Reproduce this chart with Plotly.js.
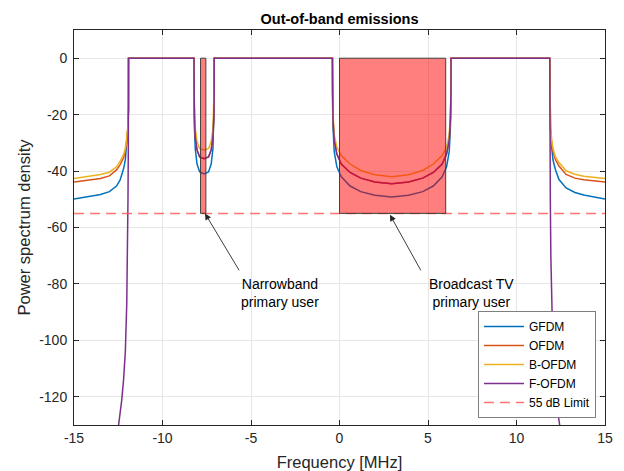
<!DOCTYPE html>
<html>
<head>
<meta charset="utf-8">
<script src="https://cdn.plot.ly/plotly-3.0.1.min.js"></script>
<style>html,body{margin:0;padding:0;background:#fff;}#chart{width:624px;height:471px;}</style>
</head>
<body>
<div id="chart"></div>
<script>
// ---- data ----
const freq = [-15, -14.5, -14, -13.5, -13, -12.6, -12.4, -12.2, -12.1, -12.02, -11.96, -11.92,
  -11.92, -8.22,
  -8.22, -8.2, -8.15, -8.05, -7.9, -7.65, -7.4, -7.25, -7.15, -7.1, -7.08,
  -7.08, -0.4,
  -0.4, -0.37, -0.3, -0.15, 0.1, 0.6, 1.2, 2.0, 2.95, 3.9, 4.7, 5.3, 5.8, 6.05, 6.2, 6.27, 6.3,
  6.3, 11.88,
  11.88, 11.92, 11.98, 12.06, 12.2, 12.4, 12.8, 13.3, 13.8, 14.4, 15];

const gfdm = [-49.9, -49.4, -48.8, -48.3, -47.3, -45.3, -43.2, -39.2, -36, -31, -25, -18,
  0, 0,
  -14, -24, -32, -37.5, -40.3, -41, -40.3, -37.5, -32, -24, -14,
  0, 0,
  -12, -24, -33, -38.5, -42, -45.3, -47.3, -48.6, -49.2, -48.6, -47.3, -45.3, -42, -38.5, -33, -24, -12,
  0, 0,
  -18, -25, -31, -36, -39.5, -43, -46, -47.6, -48.5, -49.3, -49.9];

const ofdm = [-43.9, -43.5, -43.1, -42.6, -41.7, -39.6, -37.8, -35.3, -33, -29.5, -25, -18,
  0, 0,
  -12, -21, -28, -32.5, -35, -35.6, -35, -32.5, -28, -21, -12,
  0, 0,
  -10, -21, -29, -34, -37.5, -40.5, -42.5, -43.9, -44.5, -43.9, -42.5, -40.5, -37.5, -34, -29, -21, -10,
  0, 0,
  -18, -25, -29.5, -33, -36, -38.2, -41.2, -42.5, -43.1, -43.5, -43.9];

const bofdm = [-42.6, -42.2, -41.8, -41.2, -40.4, -38.5, -36.6, -34.2, -32, -28.5, -24.5, -18,
  0, 0,
  -10, -18, -25, -29.5, -32, -32.6, -32, -29.5, -25, -18, -10,
  0, 0,
  -10, -20, -27, -31.5, -34.5, -37.5, -39.8, -41.3, -42, -41.3, -39.8, -37.5, -34.5, -31.5, -27, -20, -10,
  0, 0,
  -18, -24.5, -28.5, -32, -35, -37, -39.9, -41.1, -41.8, -42.2, -42.6];

const fofdmFreq = [-12.5, -12.4, -12.3, -12.2, -12.1, -12.02, -11.98, -11.95, -11.93, -11.92,
  -11.92, -8.22,
  -8.22, -8.2, -8.15, -8.05, -7.9, -7.65, -7.4, -7.25, -7.15, -7.1, -7.08,
  -7.08, -0.4,
  -0.4, -0.37, -0.3, -0.15, 0.1, 0.6, 1.2, 2.0, 2.95, 3.9, 4.7, 5.3, 5.8, 6.05, 6.2, 6.27, 6.3,
  6.3, 11.88,
  11.88, 11.89, 11.91, 11.94, 11.98, 12.06, 12.16, 12.26, 12.36, 12.46];

const fofdm = [-131, -126.5, -121, -114, -104, -87, -70, -50, -30, -18,
  0, 0,
  -12, -21, -28, -32.5, -35, -35.6, -35, -32.5, -28, -21, -12,
  0, 0,
  -10, -21, -29, -34, -37.5, -40.5, -42.5, -43.9, -44.5, -43.9, -42.5, -40.5, -37.5, -34, -29, -21, -10,
  0, 0,
  -18, -30, -50, -70, -87, -104, -114, -121, -126.5, -131];

const limitFreq = [-15, 15];
const limitLevel = -55;

// primary users (rectangles)
const puStart = [-7.85, 0];
const puEnd = [-7.55, 6];
const puTop = 0;

const seriesNames = ['GFDM', 'OFDM', 'B-OFDM', 'F-OFDM', '55 dB Limit'];
const xTicks = [-15, -10, -5, 0, 5, 10, 15];
const yTicks = [-120, -100, -80, -60, -40, -20, 0];

// annotation anchors
const userLabels = ['Narrowband<br>primary user', 'Broadcast TV<br>primary user'];
const labelX = [-3.37, 7.45];
const labelY = [-83.3, -83.3];
const arrowHeadX = [-7.6, 2.85];
const arrowHeadY = [-55, -55.5];
const arrowTailX = [-5.62, 4.64];
const arrowTailY = [-75.7, -75.7];

// ---- chart ----
const colors = ['#0072BD', '#D95319', '#EDB120', '#7E2F8E', '#FF5A5A'];
const FONT = 'Liberation Sans, Arial, Helvetica, sans-serif';
const TXT = '#262626';

const traces = [
  {x: freq, y: gfdm, name: seriesNames[0], mode: 'lines', line: {color: colors[0], width: 1.5}},
  {x: freq, y: ofdm, name: seriesNames[1], mode: 'lines', line: {color: colors[1], width: 1.5}},
  {x: freq, y: bofdm, name: seriesNames[2], mode: 'lines', line: {color: colors[2], width: 1.5}},
  {x: fofdmFreq, y: fofdm, name: seriesNames[3], mode: 'lines', line: {color: colors[3], width: 1.5}},
  {x: limitFreq, y: limitFreq.map(() => limitLevel), name: seriesNames[4], mode: 'lines',
   opacity: 0.85, line: {color: colors[4], width: 1.5, dash: '10px,6px'}}
];

const shapes = puStart.map((s, i) => ({
  type: 'rect', xref: 'x', yref: 'y', x0: s, x1: puEnd[i], y0: limitLevel, y1: puTop,
  fillcolor: 'rgba(255,0,0,0.5)', line: {color: '#404040', width: 1}, layer: 'above'
}));

const annotations = [];
userLabels.forEach((t, i) => {
  annotations.push({
    xref: 'x', yref: 'y', axref: 'x', ayref: 'y',
    x: arrowHeadX[i], y: arrowHeadY[i], ax: arrowTailX[i], ay: arrowTailY[i],
    text: '', showarrow: true, arrowhead: 2, arrowsize: 1.4, arrowwidth: 0.9, arrowcolor: '#262626'
  });
  annotations.push({
    xref: 'x', yref: 'y', x: labelX[i], y: labelY[i], text: t, showarrow: false,
    font: {family: FONT, size: 14, color: '#000'}, align: 'center'
  });
});

const axisCommon = {
  showline: true, linecolor: TXT, linewidth: 1, mirror: 'ticks',
  ticks: 'inside', ticklen: 5, tickcolor: TXT, tickwidth: 1,
  showgrid: true, gridcolor: '#E6E6E6', gridwidth: 1, zeroline: false,
  tickfont: {family: FONT, size: 14, color: TXT}
};

const layout = {
  width: 624, height: 471,
  margin: {l: 74, r: 19, t: 30, b: 46},
  paper_bgcolor: '#fff', plot_bgcolor: '#fff',
  font: {family: FONT, color: TXT},
  title: {text: '<b>Out-of-band emissions</b>', font: {family: FONT, size: 14.5, color: '#000'},
          xref: 'paper', x: 0.5, yref: 'container', y: 0.96, yanchor: 'middle'},
  xaxis: Object.assign({}, axisCommon, {
    range: [-15, 15], tickvals: xTicks, ticktext: xTicks.map(String),
    title: {text: 'Frequency [MHz]', font: {family: FONT, size: 16.5, color: TXT}, standoff: 12}
  }),
  yaxis: Object.assign({}, axisCommon, {
    range: [-130, 10], tickvals: yTicks, ticktext: yTicks.map(String), ticklabelstandoff: 3,
    title: {text: 'Power spectrum density', font: {family: FONT, size: 16.5, color: TXT}, standoff: 4}
  }),
  showlegend: true,
  legend: {
    x: 0.983, xanchor: 'right', y: 0.018, yanchor: 'bottom',
    bgcolor: '#fff', bordercolor: '#7F7F7F', borderwidth: 1,
    font: {family: FONT, size: 12, color: '#000'}, tracegroupgap: 0, itemwidth: 40
  },
  shapes: shapes,
  annotations: annotations
};

Plotly.newPlot('chart', traces, layout, {displayModeBar: false, staticPlot: true});
</script>
</body>
</html>
